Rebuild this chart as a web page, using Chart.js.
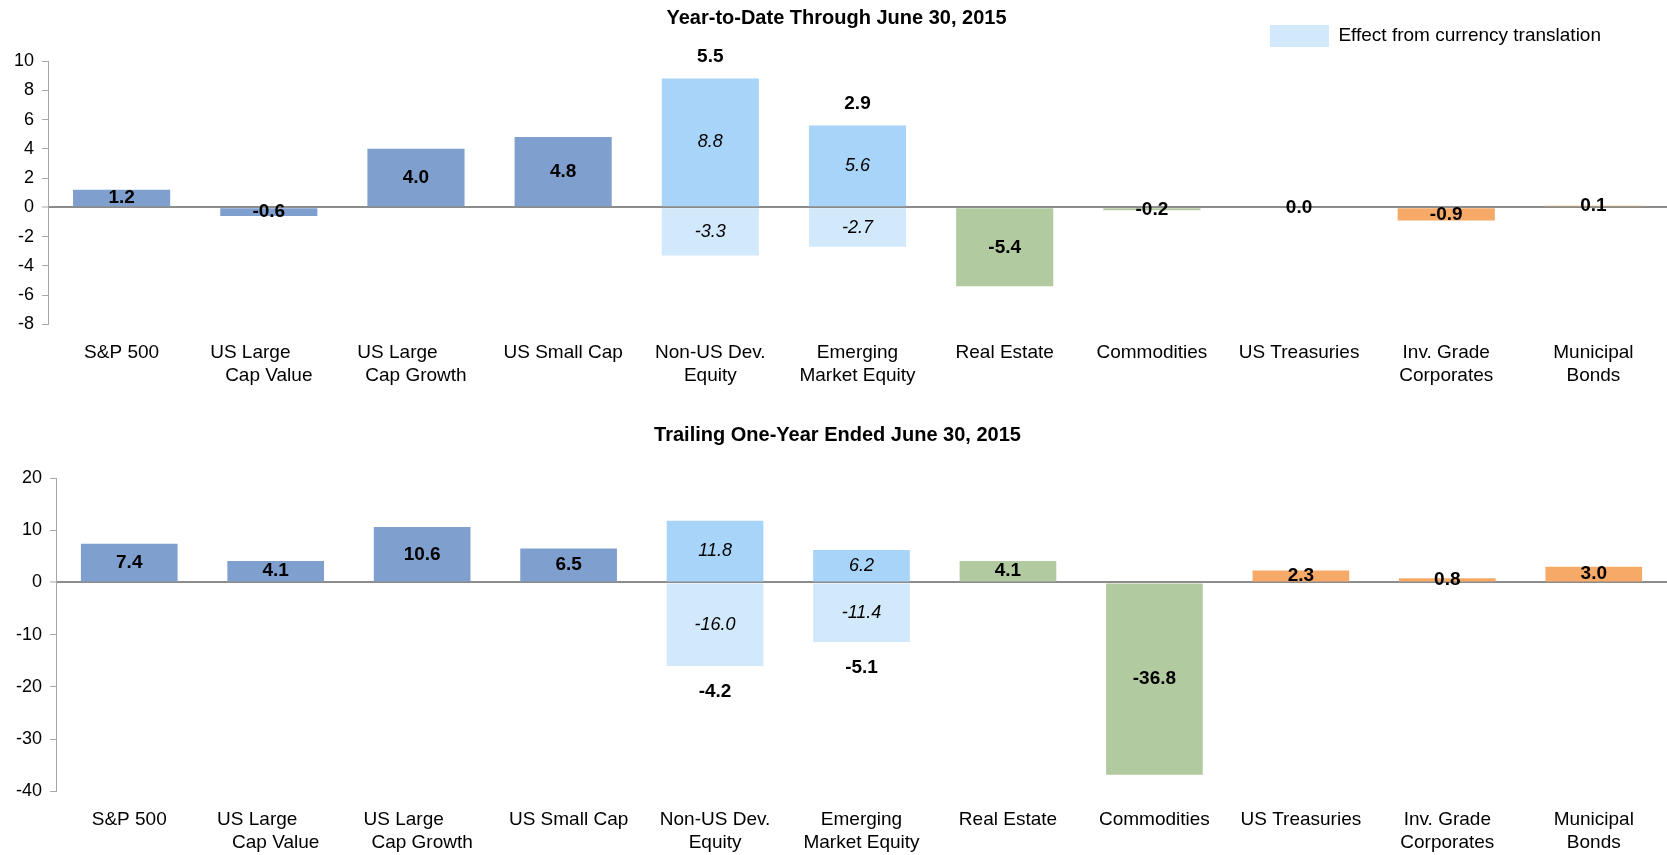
<!DOCTYPE html>
<html>
<head>
<meta charset="utf-8">
<script src="https://cdn.jsdelivr.net/npm/chart.js@4.4.1/dist/chart.umd.min.js"></script>
<style>
  html, body { margin: 0; padding: 0; background: #fff; overflow: hidden; }
  .panel { position: relative; width: 1667px; }
  #ytdWrap { height: 400px; }
  #oneYearWrap { height: 455px; }
</style>
</head>
<body>
<div class="panel" id="ytdWrap"><canvas id="ytdChart"></canvas></div>
<div class="panel" id="oneYearWrap"><canvas id="oneYearChart"></canvas></div>
<script>
// categories (trailing spaces nudge the first line left like the original)
const categories = [
    ['S&P 500'],
    ['US Large       ', 'Cap Value'],
    ['US Large       ', 'Cap Growth'],
    ['US Small Cap'],
    ['Non-US Dev.', 'Equity'],
    ['Emerging', 'Market Equity'],
    ['Real Estate'],
    ['Commodities'],
    ['US Treasuries'],
    ['Inv. Grade', 'Corporates'],
    ['Municipal', 'Bonds'],
];

// year-to-date through June 30, 2015
const ytdReturns = [1.2, -0.6, 4.0, 4.8, null, null, -5.4, -0.2, 0.0, -0.9, 0.1];
const ytdLocal = [null, null, null, null, 8.8, 5.6, null, null, null, null, null];
const ytdCurrency = [null, null, null, null, -3.3, -2.7, null, null, null, null, null];
const ytdTotals = [null, null, null, null, 5.5, 2.9, null, null, null, null, null];

// trailing one-year ended June 30, 2015
const oneYearReturns = [7.4, 4.1, 10.6, 6.5, null, null, 4.1, -36.8, 2.3, 0.8, 3.0];
const oneYearLocal = [null, null, null, null, 11.8, 6.2, null, null, null, null, null];
const oneYearCurrency = [null, null, null, null, -16.0, -11.4, null, null, null, null, null];
const oneYearTotals = [null, null, null, null, -4.2, -5.1, null, null, null, null, null];

const blue = '#7f9fce';
const green = '#b2caa0';
const orange = '#f7aa68';
const barColors = [blue, blue, blue, blue, null, null, green, green, orange, orange, orange];
const localColor = '#a7d4f8';
const currencyColor = '#d2e8fb';

const FONT = "'Liberation Sans', Arial, Helvetica, sans-serif";
Chart.defaults.font.family = FONT;
Chart.defaults.color = '#000';

// values in the middle of each bar, totals above/below the stacked bars
const barLabels = {
    id: 'barLabels',
    afterLayout(chart, args, opts) {
        if (opts.legendShift && chart.legend) {
            chart.legend.right -= opts.legendShift.x;
            chart.legend.top -= opts.legendShift.y;
        }
    },
    afterDatasetsDraw(chart, args, opts) {
        const { ctx } = chart;
        ctx.save();
        ctx.textAlign = 'center';
        ctx.textBaseline = 'middle';
        ctx.fillStyle = '#000';
        chart.data.datasets.forEach((ds, i) => {
            const meta = chart.getDatasetMeta(i);
            const italic = i > 0;
            ctx.font = italic ? `italic 18px ${FONT}` : `bold 19px ${FONT}`;
            meta.data.forEach((bar, j) => {
                const v = ds.data[j];
                if (v === null || v === undefined) return;
                ctx.fillText(v.toFixed(1), bar.x, (bar.y + bar.base) / 2);
            });
        });
        ctx.font = `bold 19px ${FONT}`;
        const localMeta = chart.getDatasetMeta(1);
        const curMeta = chart.getDatasetMeta(2);
        opts.totals.forEach((t, j) => {
            if (t === null) return;
            const x = localMeta.data[j].x;
            const y = t >= 0
                ? localMeta.data[j].y - opts.offset
                : curMeta.data[j].y + opts.offset;
            ctx.fillText(t.toFixed(1), x, y);
        });
        ctx.restore();
    },
};

const makePanel = (elementId, cfg) => {
    const element = document.getElementById(elementId);
    return new Chart(element, {
        type: 'bar',
        data: {
            labels: categories,
            datasets: [
                {
                    label: 'Return',
                    data: cfg.returns,
                    backgroundColor: barColors,
                },
                {
                    label: 'Local return',
                    data: cfg.local,
                    backgroundColor: localColor,
                },
                {
                    label: 'Effect from currency translation',
                    data: cfg.currency,
                    backgroundColor: currencyColor,
                },
            ],
        },
        options: {
            responsive: true,
            maintainAspectRatio: false,
            animation: false,
            layout: {
                padding: cfg.padding,
            },
            datasets: {
                bar: {
                    categoryPercentage: 1,
                    barPercentage: 0.66,
                    borderWidth: 0,
                },
            },
            plugins: {
                title: {
                    display: true,
                    text: cfg.title,
                    color: '#000',
                    font: { size: 20, weight: 'bold' },
                    padding: cfg.titlePadding,
                },
                legend: {
                    display: cfg.showLegend,
                    position: 'top',
                    align: 'end',
                    labels: {
                        filter: (item) => item.datasetIndex === 2,
                        boxWidth: 59,
                        boxHeight: 22,
                        padding: 8,
                        color: '#000',
                        font: { size: 19 },
                    },
                },
                tooltip: { enabled: false },
                barLabels: {
                    totals: cfg.totals,
                    offset: cfg.totalOffset,
                    legendShift: cfg.showLegend ? { x: 58, y: 4 } : null,
                },
            },
            scales: {
                x: {
                    stacked: true,
                    grid: { display: false, drawTicks: false },
                    border: { display: false },
                    ticks: {
                        autoSkip: false,
                        maxRotation: 0,
                        padding: 17,
                        color: '#000',
                        font: { size: 19, lineHeight: 1.2 },
                    },
                },
                y: {
                    stacked: true,
                    min: cfg.min,
                    max: cfg.max,
                    z: 1,
                    border: { display: true, color: '#a6a6a6', width: 1 },
                    grid: {
                        color: (c) => (c.tick && c.tick.value === 0 ? '#8c8c8c' : 'rgba(0,0,0,0)'),
                        lineWidth: (c) => (c.tick && c.tick.value === 0 ? 2 : 1),
                        tickColor: '#a6a6a6',
                        tickWidth: 1,
                        tickLength: 6,
                    },
                    ticks: {
                        stepSize: cfg.step,
                        padding: 8,
                        color: '#000',
                        font: { size: 18 },
                    },
                },
            },
        },
        plugins: [barLabels],
    });
};

makePanel('ytdChart', {
    title: 'Year-to-Date Through June 30, 2015',
    returns: ytdReturns,
    local: ytdLocal,
    currency: ytdCurrency,
    totals: ytdTotals,
    totalOffset: 22,
    min: -8,
    max: 10,
    step: 2,
    showLegend: true,
    titlePadding: { top: 6, bottom: -9 },
    padding: { top: 0, left: 6, right: 0, bottom: -4 },
});

makePanel('oneYearChart', {
    title: 'Trailing One-Year Ended June 30, 2015',
    returns: oneYearReturns,
    local: oneYearLocal,
    currency: oneYearCurrency,
    totals: oneYearTotals,
    totalOffset: 26,
    min: -40,
    max: 20,
    step: 10,
    showLegend: false,
    titlePadding: { top: 23, bottom: 31 },
    padding: { top: 0, left: 8, right: 0, bottom: -16 },
});
</script>
</body>
</html>
